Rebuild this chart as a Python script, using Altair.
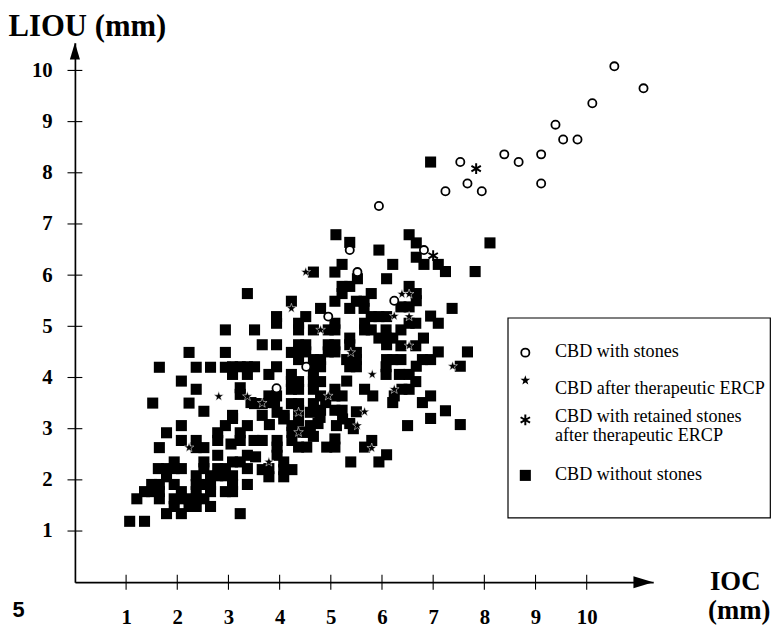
import altair as alt
import pandas as pd

# ---------------- data (mm) ----------------
sq_x = [1.07, 1.36, 1.21, 1.65, 1.94, 2.08, 2.23, 2.37, 2.52, 1.79, 2.08, 3.23, 1.94, 2.23, 2.37, 2.65,
        1.36, 1.50, 1.65, 2.08, 2.37, 2.65, 2.94, 3.08, 1.50, 1.65, 1.94, 2.37, 2.52, 2.65, 3.08, 3.37,
        1.79, 2.37, 2.65, 2.79, 2.94, 3.08, 1.63, 1.79, 1.94, 2.08, 2.52, 2.79, 2.94, 3.37, 1.94, 2.52,
        3.08, 3.23, 2.79, 3.37, 1.65, 2.37, 2.52, 2.08, 2.37, 2.79, 3.23, 3.50, 1.79, 2.79, 3.23, 2.08,
        2.94, 3.37, 3.08, 2.52, 1.52, 2.23, 3.44, 2.37, 3.23, 3.23, 2.08, 2.94, 2.23, 2.94, 1.65, 2.37,
        2.65, 2.94, 3.08,
        5.10, 5.37, 5.94, 5.22, 5.08, 4.66, 5.52, 6.21, 6.09, 5.22, 5.37, 5.22, 3.37, 5.79, 4.23, 5.08,
        5.50, 5.65, 4.80, 5.37, 5.65, 5.79, 5.94, 6.09, 3.94, 3.94, 4.51, 4.37, 4.37, 4.66, 4.95, 5.08,
        5.08, 5.66, 5.66, 3.51, 5.79, 5.94, 6.09, 6.09, 5.37, 5.37, 3.66, 3.94, 4.37, 4.51, 4.51, 4.37,
        4.23, 4.95, 5.08, 4.95, 5.08, 5.50, 5.50, 6.09, 6.21, 4.37, 4.66, 4.80, 4.66, 4.80, 3.08, 3.23,
        3.37, 3.51, 3.94, 3.37, 3.79, 4.23, 4.23, 4.37, 4.23, 4.37, 4.66, 4.66, 4.80, 5.37, 5.50, 5.08,
        5.08, 5.22, 4.80, 4.66, 5.66, 5.82, 3.79, 3.94, 3.51, 3.66, 4.23, 4.37, 4.37, 4.66, 4.80, 5.08,
        5.22, 3.08, 3.66, 4.09,
        3.80, 3.90, 4.90, 6.21, 6.79, 3.95, 4.60, 5.50, 3.80, 4.08, 4.24, 4.37, 4.60, 4.75, 5.23, 5.44,
        6.50, 3.05, 3.66, 4.24, 4.46, 4.24, 4.66, 4.92, 5.08, 5.08, 5.66, 5.80, 3.53, 3.66, 3.79, 3.95,
        3.95, 4.08, 4.08, 4.08, 4.24, 5.39, 5.94, 6.09, 4.37, 4.53, 3.95, 3.79, 5.11, 5.37, 4.79, 4.53,
        6.53, 6.67, 6.67, 6.82, 7.10, 7.24, 7.82, 8.11, 6.53, 6.67, 6.67, 6.37, 6.53, 7.37, 6.95, 7.10,
        6.66, 6.53, 6.08, 6.37, 6.21, 6.81, 6.37, 6.66, 7.10, 7.67, 6.37, 6.79, 6.95, 5.31, 6.08, 6.08,
        6.34, 6.53, 6.67, 7.53, 6.66, 5.31, 6.24, 6.39, 6.53, 6.95, 7.24, 6.95, 7.53, 6.95]
sq_y = [1.19, 1.19, 1.63, 1.63, 1.63, 1.63, 1.63, 1.63, 1.63, 1.34, 1.34, 1.34, 1.48, 1.48, 1.48, 1.48,
        1.77, 1.77, 1.77, 1.77, 1.77, 1.77, 1.77, 1.77, 1.91, 1.91, 1.91, 1.91, 1.91, 1.91, 1.91, 1.91,
        2.06, 2.08, 2.08, 2.08, 2.08, 2.08, 2.22, 2.22, 2.22, 2.22, 2.22, 2.22, 2.22, 2.22, 2.35, 2.35,
        2.35, 2.35, 2.48, 2.48, 2.63, 2.63, 2.63, 2.77, 2.77, 2.77, 2.77, 2.77, 2.92, 2.92, 2.92, 3.06,
        3.06, 3.06, 3.20, 3.34, 3.50, 3.50, 3.51, 3.77, 3.80, 3.67, 3.93, 4.93, 4.49, 4.49, 4.20, 4.20,
        4.20, 4.20, 4.06,
        6.79, 6.64, 6.49, 6.21, 6.06, 6.06, 5.93, 6.21, 5.93, 5.78, 5.78, 5.64, 5.64, 5.64, 5.49, 5.49,
        5.49, 5.49, 5.35, 5.35, 5.35, 5.19, 5.19, 5.19, 5.19, 5.06, 5.19, 5.06, 4.93, 4.93, 4.93, 5.06,
        4.93, 5.06, 4.93, 4.93, 4.93, 4.77, 4.77, 4.64, 4.77, 4.64, 4.64, 4.64, 4.64, 4.64, 4.50, 4.50,
        4.49, 4.64, 4.64, 4.50, 4.50, 4.49, 4.35, 4.35, 4.35, 4.35, 4.35, 4.35, 4.21, 4.21, 4.21, 4.21,
        4.21, 4.21, 4.21, 4.06, 4.06, 4.06, 3.92, 3.92, 3.77, 3.77, 4.06, 3.92, 3.92, 4.21, 4.21, 3.77,
        3.64, 3.64, 3.64, 3.77, 3.77, 3.64, 3.64, 3.64, 3.49, 3.49, 3.49, 3.49, 3.36, 3.49, 3.36, 3.36,
        3.36, 3.26, 3.26, 3.26,
        3.51, 3.51, 3.51, 3.51, 3.51, 3.32, 3.32, 3.33, 3.08, 3.19, 3.06, 3.15, 3.06, 3.10, 3.19, 3.00,
        3.06, 2.70, 2.77, 2.93, 2.93, 2.77, 2.85, 2.64, 2.64, 2.80, 2.64, 2.77, 2.45, 2.20, 2.06, 2.64,
        2.48, 2.35, 2.20, 2.06, 2.20, 2.35, 2.35, 2.49, 2.64, 2.64, 2.77, 2.22, 3.06, 3.10, 3.22, 2.93,
        6.79, 6.63, 6.35, 6.21, 6.21, 6.07, 6.07, 6.63, 5.78, 5.64, 5.50, 5.38, 5.38, 5.35, 5.20, 5.06,
        5.06, 5.06, 4.93, 4.93, 4.77, 4.77, 4.62, 4.62, 4.50, 4.50, 4.35, 4.35, 4.35, 4.35, 4.21, 4.06,
        4.06, 4.06, 4.22, 4.22, 3.92, 3.93, 3.64, 3.77, 3.77, 3.64, 3.35, 3.20, 3.08, 8.21]

circ_x = [10.54, 11.11, 10.11, 9.39, 9.54, 9.82, 8.39, 8.67, 9.11, 9.11, 7.53, 7.67, 7.24, 7.95, 5.94,
          5.37, 5.52, 6.82, 6.24, 4.95, 4.52, 3.94]
circ_y = [10.08, 9.65, 9.36, 8.94, 8.65, 8.65, 8.36, 8.21, 8.36, 7.79, 8.21, 7.79, 7.64, 7.64, 7.35,
          6.49, 6.06, 6.49, 5.50, 5.19, 4.21, 3.79]

star_x = [2.81, 3.37, 2.23, 4.51, 4.23, 4.80, 5.39, 5.81, 4.95, 3.79, 4.37, 5.52, 5.66, 5.80, 4.37,
          6.39, 6.53, 6.24, 6.53, 6.53, 7.38, 6.24, 3.66]
star_y = [3.63, 3.63, 2.63, 6.06, 5.35, 4.93, 4.49, 4.06, 3.64, 2.35, 3.32, 3.06, 3.33, 2.62, 2.93,
          5.63, 5.63, 5.20, 5.19, 4.62, 4.22, 3.77, 3.50]

ast_x = [7.84, 7.00]
ast_y = [8.08, 6.38]

ticks = list(range(1, 11))
legend_labels = ["CBD with stones", "CBD after therapeutic ERCP", "CBD with retained stones",
                 "after therapeutic ERCP", "CBD without stones"]

# ---------------- layout ----------------
UNIT = 51.7
XMAX, YMAX = 11.3, 10.54
W, H = XMAX * UNIT, YMAX * UNIT
SERIF = "Liberation Serif"

xs = alt.Scale(domain=[0, XMAX], nice=False, zero=False)
ys = alt.Scale(domain=[0, YMAX], nice=False, zero=False)

xaxis = alt.Axis(values=ticks, ticks=False, domain=True, domainColor="black", domainWidth=1.7,
                 labelFont=SERIF, labelFontSize=21, labelFontWeight="bold", labelColor="black",
                 labelPadding=25, grid=False, title=None, labelFlush=False)
yaxis = alt.Axis(values=ticks, ticks=False, domain=True, domainColor="black", domainWidth=1.7,
                 labelFont=SERIF, labelFontSize=21, labelFontWeight="bold", labelColor="black",
                 labelPadding=23, grid=False, title=None, labelFlush=False)

STAR = ("M0,-1L0.235,-0.324L0.951,-0.309L0.380,0.124L0.588,0.809L0,0.4L-0.588,0.809"
        "L-0.380,0.124L-0.951,-0.309L-0.235,-0.324Z")
AST = "M0,-1L0,1M-0.87,-0.5L0.87,0.5M-0.87,0.5L0.87,-0.5"

sq_df = pd.DataFrame({"x": sq_x, "y": sq_y})
circ_df = pd.DataFrame({"x": circ_x, "y": circ_y})
star_df = pd.DataFrame({"x": star_x, "y": star_y})
ast_df = pd.DataFrame({"x": ast_x, "y": ast_y})
tick_df = pd.DataFrame({"v": ticks})
one = pd.DataFrame({"a": [0]})

SQ_SIZE, ST_SIZE, CI_SIZE, AS_SIZE = 125, 105, 68, 120

squares = alt.Chart(sq_df).mark_point(shape="square", filled=True, size=SQ_SIZE, color="black",
                                      opacity=1).encode(
    x=alt.X("x:Q", scale=xs, axis=xaxis), y=alt.Y("y:Q", scale=ys, axis=yaxis))
stars = alt.Chart(star_df).mark_point(shape=STAR, filled=True, fill="black", stroke="white",
                                      strokeWidth=0.5, size=ST_SIZE, opacity=1).encode(
    x=alt.X("x:Q", scale=xs), y=alt.Y("y:Q", scale=ys))
circles = alt.Chart(circ_df).mark_point(shape="circle", filled=True, fill="white", stroke="black",
                                        strokeWidth=1.8, size=CI_SIZE, opacity=1).encode(
    x=alt.X("x:Q", scale=xs), y=alt.Y("y:Q", scale=ys))
asts = alt.Chart(ast_df).mark_point(shape=AST, filled=False, stroke="black", strokeWidth=2,
                                    size=AS_SIZE, opacity=1).encode(
    x=alt.X("x:Q", scale=xs), y=alt.Y("y:Q", scale=ys))

xt = alt.Chart(tick_df).mark_rule(color="black", strokeWidth=1.1).encode(
    x=alt.X("v:Q", scale=xs), y=alt.value(H - 7.5), y2=alt.value(H + 7.5))
yt = alt.Chart(tick_df).mark_rule(color="black", strokeWidth=1.1).encode(
    y=alt.Y("v:Q", scale=ys), x=alt.value(-7.5), x2=alt.value(7.5))

yarrow = alt.Chart(one).mark_point(shape="M0,-1L0.6,1L-0.6,1Z", filled=True, color="black",
                                   size=289, opacity=1).encode(x=alt.value(0), y=alt.value(8.5))
xarrow = alt.Chart(one).mark_point(shape="M1,0L-1,-0.6L-1,0.6Z", filled=True, color="black",
                                   size=400, opacity=1).encode(x=alt.value(W - 10), y=alt.value(H))


def txt(s, x, y, size, weight="normal", font=SERIF, align="left", baseline="alphabetic"):
    return alt.Chart(one).mark_text(text=s, font=font, fontSize=size, fontWeight=weight,
                                    align=align, baseline=baseline, color="black").encode(
        x=alt.value(x), y=alt.value(y))


ylab = txt("LIOU (mm)", -67, -7, 31, "bold")
xlab1 = txt("IOC", 667, 553, 27, "bold", align="center")
xlab2 = txt("(mm)", 671, 582, 27, "bold", align="center")
page = txt("5", -63, 580, 22, "bold", font="Liberation Sans")

box = alt.Chart(one).mark_rect(fill="white", stroke="black", strokeWidth=1.2).encode(
    x=alt.value(437.5), x2=alt.value(702.5), y=alt.value(278), y2=alt.value(480))
LX, TX = 455, 485
lg_c = alt.Chart(one).mark_point(shape="circle", filled=True, fill="white", stroke="black",
                                 strokeWidth=1.8, size=CI_SIZE, opacity=1).encode(
    x=alt.value(LX), y=alt.value(313))
lg_s = alt.Chart(one).mark_point(shape=STAR, filled=True, color="black", size=ST_SIZE,
                                 opacity=1).encode(x=alt.value(LX), y=alt.value(341))
lg_a = alt.Chart(one).mark_point(shape=AST, filled=False, stroke="black", strokeWidth=2,
                                 size=AS_SIZE, opacity=1).encode(x=alt.value(LX), y=alt.value(381))
lg_q = alt.Chart(one).mark_point(shape="square", filled=True, color="black", size=SQ_SIZE,
                                 opacity=1).encode(x=alt.value(LX), y=alt.value(437))
FS = 18.3
lt = [txt(legend_labels[0], TX, 312, FS, baseline="middle"),
      txt(legend_labels[1], TX, 350, FS, baseline="middle"),
      txt(legend_labels[2], TX, 378, FS, baseline="middle"),
      txt(legend_labels[3], TX, 397, FS, baseline="middle"),
      txt(legend_labels[4], TX, 437, FS, baseline="middle")]

chart = alt.layer(squares, stars, circles, asts, xt, yt, yarrow, xarrow, ylab, xlab1, xlab2,
                  page, box, lg_c, lg_s, lg_a, lg_q, *lt).properties(
    width=W, height=H,
    padding={"left": 67.6, "top": 32, "right": 122, "bottom": 42},
    autosize=alt.AutoSizeParams(type="none"),
    background="white",
).configure_view(stroke=None)

chart.save("out.html", embed_options={"renderer": "svg", "actions": False})
